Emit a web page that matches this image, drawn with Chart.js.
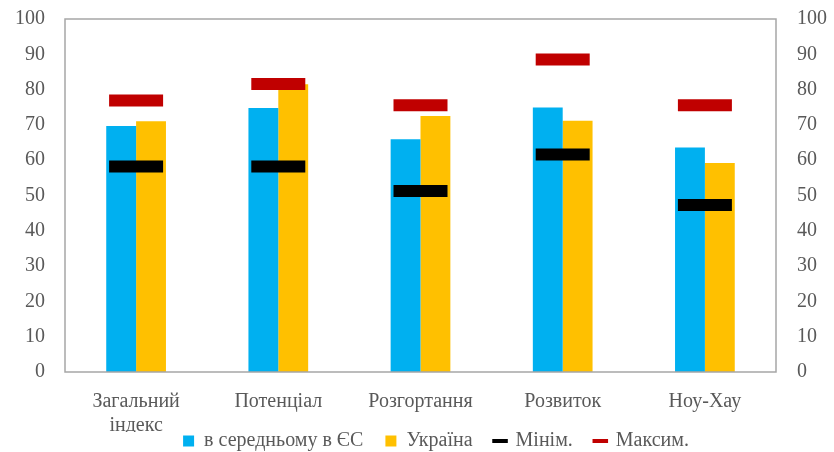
<!DOCTYPE html>
<html>
<head>
<meta charset="utf-8">
<script src="https://cdn.jsdelivr.net/npm/chart.js@4/dist/chart.umd.min.js"></script>
<style>
  html, body { margin: 0; padding: 0; background: #fff; }
  #wrap { width: 834px; height: 452px; }
</style>
</head>
<body>
<div id="wrap"><canvas id="chart"></canvas></div>
<script>
const categories = [["Загальний", "індекс"], "Потенціал", "Розгортання", "Розвиток", "Ноу-Хау"];
const euAverage = [69.7, 74.8, 65.9, 74.9, 63.6];
const ukraine = [71.0, 81.5, 72.5, 71.2, 59.2];
const minValues = [58.2, 58.2, 51.3, 61.6, 47.3];
const maxValues = [76.9, 81.6, 75.6, 88.5, 75.6];
const yTicks = [0, 10, 20, 30, 40, 50, 60, 70, 80, 90, 100];

const gray = '#595959';
const font = { family: '"Liberation Serif", "Times New Roman", serif', size: 20 };

// frame around the plot area + legend placement
const framePlugin = {
    id: 'frame',
    afterLayout(chart) {
        const lg = chart.legend;
        if (lg) {
            lg.left += 19; lg.right += 19;
            const h = lg.bottom - lg.top;
            lg.top = 409; lg.bottom = lg.top + h;
        }
    },
    afterDatasetsDraw(chart) {
        const a = chart.chartArea;
        const ctx = chart.ctx;
        ctx.save();
        ctx.strokeStyle = '#a6a6a6';
        ctx.lineWidth = 1.5;
        ctx.strokeRect(a.left, a.top, a.right - a.left, a.bottom - a.top);
        ctx.restore();
    }
};

const markerStyle = (color) => ({
    type: 'line',
    showLine: false,
    pointStyle: 'line',
    pointRadius: 27,
    pointHoverRadius: 27,
    pointBorderWidth: 12,
    pointHoverBorderWidth: 12,
    borderColor: color,
    backgroundColor: color,
    yAxisID: 'y'
});

const fitY = (w) => (scale) => {
    scale.width = w;
    scale.paddingTop = 0;
    scale.paddingBottom = 0;
};

new Chart(document.getElementById('chart').getContext('2d'), {
    data: {
        labels: categories,
        datasets: [
            { type: 'bar', label: 'в середньому в ЄС', data: euAverage, backgroundColor: '#00B0F0', order: 3 },
            { type: 'bar', label: 'Україна', data: ukraine, backgroundColor: '#FFC000', order: 3 },
            Object.assign({ label: 'Мінім.', data: minValues, order: 1 }, markerStyle('#000000')),
            Object.assign({ label: 'Максим.', data: maxValues, order: 1 }, markerStyle('#C00000'))
        ]
    },
    options: {
        responsive: true,
        maintainAspectRatio: false,
        animation: false,
        layout: { autoPadding: false, padding: { top: 19, right: 0, left: 0, bottom: -32 } },
        datasets: {
            bar: { categoryPercentage: 0.42, barPercentage: 1.0 }
        },
        plugins: {
            tooltip: { enabled: false },
            legend: {
                position: 'bottom',
                labels: {
                    color: gray,
                    font: font,
                    padding: 22,
                    usePointStyle: true,
                    generateLabels(chart) {
                        return chart.data.datasets.map((ds, i) => ({
                            text: ds.label,
                            fillStyle: ds.backgroundColor,
                            strokeStyle: ds.borderColor || ds.backgroundColor,
                            fontColor: gray,
                            lineWidth: ds.type === 'bar' ? 0 : 4,
                            pointStyle: ds.type === 'bar' ? 'rect' : 'line',
                            datasetIndex: i,
                            hidden: false
                        }));
                    },
                    boxWidth: 11,
                    boxHeight: 11
                }
            }
        },
        scales: {
            x: {
                grid: { display: false, drawTicks: false },
                border: { display: false },
                afterFit: (scale) => { scale.height = 60; },
                ticks: { color: gray, font: font, padding: 18, maxRotation: 0, autoSkip: false }
            },
            y: {
                position: 'left',
                min: 0, max: 100,
                afterBuildTicks: (scale) => { scale.ticks = yTicks.map(v => ({ value: v })); },
                afterFit: fitY(65),
                grid: { display: false, drawTicks: false },
                border: { display: false },
                ticks: { color: gray, font: font, padding: 20 }
            },
            y2: {
                position: 'right',
                min: 0, max: 100,
                afterBuildTicks: (scale) => { scale.ticks = yTicks.map(v => ({ value: v })); },
                afterFit: fitY(58),
                grid: { display: false, drawTicks: false },
                border: { display: false },
                ticks: { color: gray, font: font, padding: 21 }
            }
        }
    },
    plugins: [framePlugin]
});
</script>
</body>
</html>
